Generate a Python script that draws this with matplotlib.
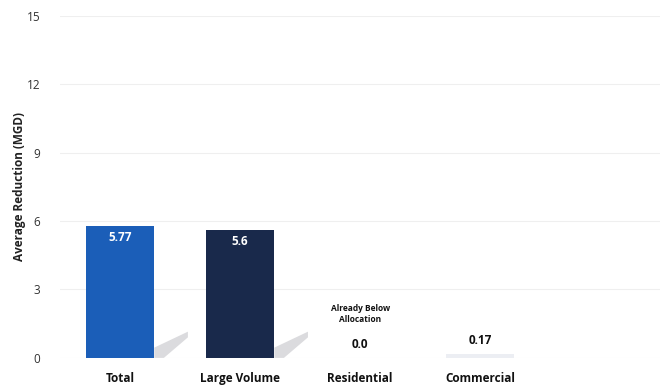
import matplotlib
matplotlib.use("Agg")
import matplotlib.pyplot as plt
from matplotlib.patches import Polygon

categories = ["Total", "Large Volume", "Residential", "Commercial"]
values = [5.77, 5.6, 0.0, 0.17]
value_labels = ["5.77", "5.6", "0.0", "0.17"]
yticks = [0, 3, 6, 9, 12, 15]
note_text = "Already Below\nAllocation"

colors = ["#1b5eb8", "#19294b", "#eceef3", "#eceef3"]

plt.rcParams['font.family'] = ['Open Sans', 'DejaVu Sans']

fig = plt.figure(figsize=(6.67, 3.89), dpi=100)
ax = fig.add_axes([0.09, 0.08, 0.90, 0.879])

x = list(range(len(categories)))
width = 0.57
bars = ax.bar(x, values, width=width, color=colors, zorder=3)

# decorative shadows to the right of the tall bars
for b, v in zip(bars, values):
    if v > 1:
        r = b.get_x() + b.get_width()
        poly = Polygon([(r, 0), (r, 0.45), (r + 0.28, 1.15), (r + 0.28, 0.9), (r + 0.08, 0)],
                       closed=True, facecolor="#cfcfd3", edgecolor="none", alpha=0.75, zorder=2)
        ax.add_patch(poly)

for xi, v, lab in zip(x, values, value_labels):
    if v > 1:
        ax.text(xi, v - 0.2, lab, ha="center", va="top", color="white",
                fontsize=8.5, fontweight="bold", zorder=4)
    else:
        ax.text(xi, v + 0.3, lab, ha="center", va="bottom", color="#111111",
                fontsize=8.5, fontweight="bold", zorder=4)

ax.text(x[2], 1.5, note_text, ha="center", va="bottom", fontsize=6,
        fontweight="bold", color="#111111", linespacing=1.3)

ax.set_xlim(-0.5, 4.5)
ax.set_ylim(0, 15)
ax.set_yticks(yticks)
ax.set_yticklabels([str(t) for t in yticks], fontsize=8.5, color="#333333")
ax.set_xticks(x)
ax.set_xticklabels(categories, fontsize=8.5, fontweight="bold", color="#111111")
ax.set_ylabel("Average Reduction (MGD)", fontsize=8.5, fontweight="bold", color="#222222")
ax.yaxis.set_label_coords(-0.057, 0.5)

ax.grid(axis="y", color="#efefef", linewidth=0.8, zorder=0)
for s in ax.spines.values():
    s.set_visible(False)
ax.tick_params(axis="both", length=0)
ax.tick_params(axis="y", pad=14)
ax.tick_params(axis="x", pad=10)

fig.savefig("out.png", dpi=100)
